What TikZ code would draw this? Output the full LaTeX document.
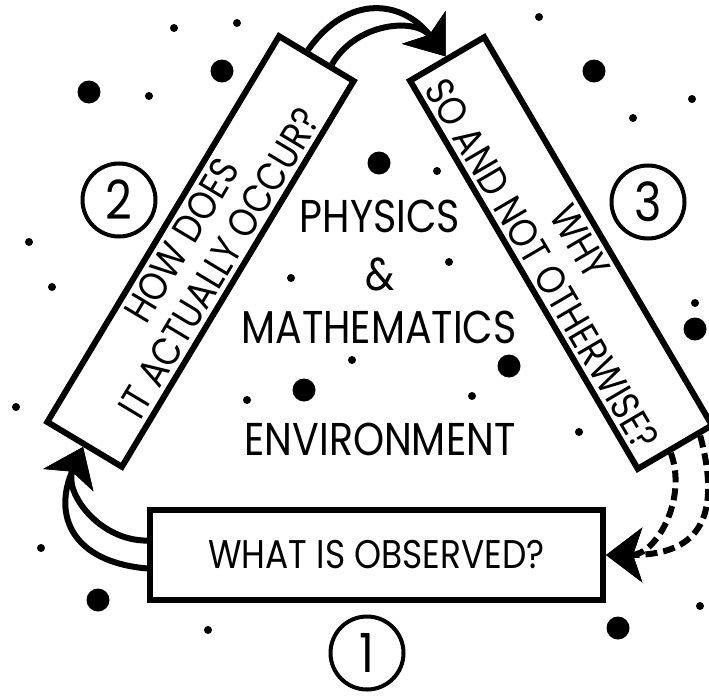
\documentclass[tikz,border=0pt]{standalone}
\usepackage{fontspec}
\newfontfamily\diagfont{Poppins}[FakeStretch=0.86]
\usetikzlibrary{arrows.meta,calc}

\begin{document}
\begin{tikzpicture}[x=1pt,y=1pt,
    box/.style={draw, line width=6pt, inner sep=0pt, align=center,
        font={\diagfont\fontsize{40}{44}\selectfont}},
    numcirc/.style={draw, circle, line width=4pt, minimum size=73pt, inner sep=0pt,
        font={\diagfont\fontsize{54}{54}\selectfont}},
    maintext/.style={inner sep=0pt, anchor=base, font={\diagfont\fontsize{46}{46}\selectfont}},
    flow/.style={line width=6pt, -{Stealth[length=36pt,width=54pt,inset=9pt]}},
    dashflow/.style={flow, dash pattern=on 12pt off 6pt}]
    \path[use as bounding box] (0,0) rectangle (709,-696);
    \clip (0,0) rectangle (709,-696);
    % dots
    \foreach \x/\y in {174/28, 237/23, 149/96, 29/242, 52/287, 437/171, 291/278, 449/262,
        539/17, 692/99, 633/118, 695/303, 16/407, 41/548, 208/630, 352/360, 247/400,
        472/396, 579/432, 700/606}
        \fill (\x,-\y) circle (4pt);
    \foreach \x/\y in {222/71, 89/92, 379/163, 594/71, 695/329, 98/600, 304/390, 509/366, 618/628}
        \fill (\x,-\y) circle (11.5pt);
    % the three questions
    \node[box, minimum width=453pt, minimum height=90pt] (obs) at (376.5,-555) {WHAT IS OBSERVED?};
    \node[box, rotate=59, minimum width=450pt, minimum height=87pt] (how) at (200.5,-251.5) {HOW DOES\\IT ACTUALLY OCCUR?};
    \node[box, rotate=-59.6, minimum width=450pt, minimum height=86pt] (why) at (561,-253) {WHY\\SO AND NOT OTHERWISE?};
    \node[numcirc] (one) at (367,-653) {1};
    \node[numcirc] (two) at (119,-200) {2};
    \node[numcirc] (three) at (648,-202) {3};
    % middle
    \node[maintext] (phys) at (380,-232) {PHYSICS};
    \node[maintext] (amp) at (380,-290) {\&};
    \node[maintext] (math) at (379,-343) {MATHEMATICS};
    \node[maintext] (env) at (380,-455) {ENVIRONMENT};
    % arrows
    \draw[flow] ($(how.north east)!0.375!(how.south east)$) to[out=55, in=127, looseness=1.3] (why.west);
    \draw[flow] ($(how.north east)!0.675!(how.south east)$) to[out=60, in=127, looseness=1.1] (why.west);
    \draw[flow] ($(obs.north west)!0.64!(obs.south west)$) to[out=175, in=-114, looseness=1.4] (how.west);
    \draw[flow] ($(obs.north west)!0.35!(obs.south west)$) to[out=180, in=-114, looseness=1.1] (how.west);
    \draw[dashflow] ($(why.north east)!0.2!(why.south east)$) to[out=-75, in=0, looseness=1.5] (obs.east);
    \draw[dashflow] ($(why.north east)!0.57!(why.south east)$) to[out=-70, in=0, looseness=1.05] (obs.east);
\end{tikzpicture}
\end{document}
